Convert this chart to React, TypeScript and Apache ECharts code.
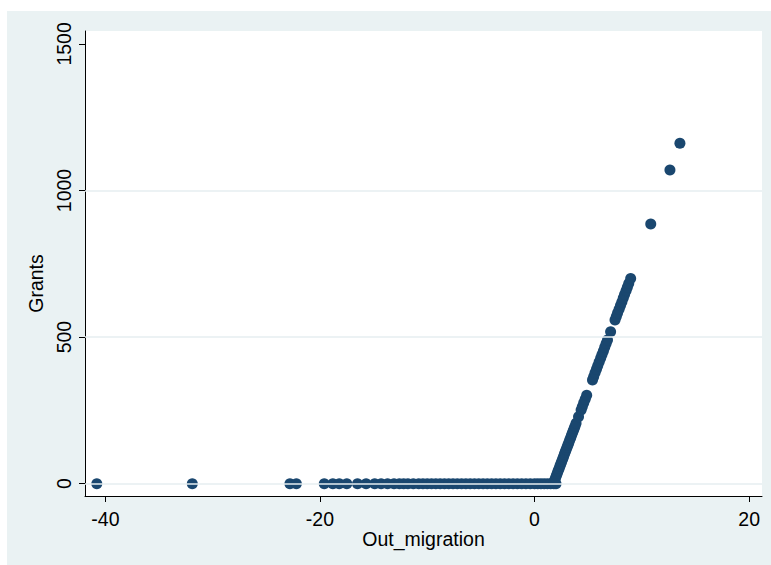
import { useEffect, useRef } from "react";
import * as echarts from "echarts";

// Points lying on Grants = 0
const zeroX = [
  -40.8, -31.9, -22.8, -22.2, -19.6, -18.8, -18.2, -17.5, -16.5, -15.7, -14.9,
  -14.3, -13.7, -13.1, -12.6, -12.2, -11.8, -11.3, -10.8, -10.4, -10.0, -9.6,
  -9.2, -8.8, -8.4, -8.0, -7.6, -7.2, -6.8, -6.4, -6.0, -5.6, -5.2, -4.8, -4.4,
  -4.0, -3.6, -3.2, -2.8, -2.4, -2.0, -1.6, -1.2, -0.8, -0.4, 0.0, 0.3, 0.6,
  0.9, 1.2, 1.5, 1.8, 2.0,
];

// Rising part
const risingX = [
  1.8, 1.87, 1.96, 2.04, 2.12, 2.2, 2.29, 2.37, 2.45, 2.53, 2.62, 2.7, 2.78,
  2.86, 2.94, 3.03, 3.11, 3.19, 3.27, 3.36, 3.44, 3.52, 3.6, 3.69, 3.77, 3.87,
  4.1, 4.34, 4.45, 4.58, 4.72, 4.86, 5.4, 5.51, 5.64, 5.77, 5.89, 6.02, 6.16,
  6.28, 6.41, 6.54, 6.67, 6.8, 7.09, 7.5, 7.62, 7.74, 7.88, 8.01, 8.14, 8.27,
  8.39, 8.53, 8.65, 8.78, 8.96,
];
const risingY = [
  5, 12, 20, 28, 36, 44, 52, 60, 68, 76, 84, 92, 100, 108, 116, 124, 132, 140,
  148, 156, 164, 172, 180, 188, 196, 206, 228, 251, 262, 275, 288, 302, 354,
  365, 378, 390, 402, 415, 428, 440, 452, 465, 478, 490, 518, 558, 570, 582,
  595, 608, 620, 633, 645, 658, 670, 683, 700,
];

// Isolated high points
const outlierX = [10.83, 12.62, 13.55];
const outlierY = [886, 1070, 1161];

const xTicks = [-40, -20, 0, 20];
const yTicks = [0, 500, 1000, 1500];
const gridLinesY = [0, 500, 1000];

const FONT = "Liberation Sans";
const FS = 19.5;

export default function App() {
  const ref = useRef<HTMLDivElement>(null);

  useEffect(() => {
    document.body.style.margin = "0";
    if (!ref.current) return;
    const chart = echarts.init(ref.current, undefined, { renderer: "svg" });

    const points: [number, number][] = [];
    zeroX.forEach((x) => points.push([x, 0]));
    risingX.forEach((x, i) => points.push([x, risingY[i]]));
    outlierX.forEach((x, i) => points.push([x, outlierY[i]]));

    chart.setOption({
      animation: false,
      backgroundColor: "#ffffff",
      textStyle: { fontFamily: FONT },
      graphic: [
        {
          type: "rect",
          left: 7,
          top: 11,
          shape: { width: 764, height: 554 },
          style: { fill: "#EAF2F3" },
          z: -10,
          silent: true,
        },
      ],
      grid: {
        left: 85,
        right: 9,
        top: 31,
        bottom: 69,
        show: true,
        backgroundColor: "#ffffff",
        borderWidth: 0,
      },
      xAxis: {
        type: "value",
        min: -41.9,
        max: 21.2,
        name: "Out_migration",
        nameLocation: "middle",
        nameGap: 33,
        nameMoveOverlap: false,
        nameTextStyle: { fontSize: FS, color: "#000", fontFamily: FONT },
        axisLine: { show: true, onZero: false, lineStyle: { color: "#000", width: 1 } },
        axisTick: { show: true, customValues: xTicks, length: 6, lineStyle: { color: "#000" } },
        axisLabel: {
          customValues: xTicks,
          fontSize: FS,
          color: "#000",
          fontFamily: FONT,
          margin: 13,
          formatter: (v: number) => String(v),
        },
        splitLine: { show: false },
      },
      yAxis: {
        type: "value",
        min: -42,
        max: 1544,
        name: "Grants",
        nameLocation: "middle",
        nameGap: 38,
        nameRotate: 90,
        nameTextStyle: {
          fontSize: FS,
          color: "#000",
          fontFamily: FONT,
          padding: [0, 40, 0, 0],
        },
        axisLine: { show: true, onZero: false, lineStyle: { color: "#000", width: 1 } },
        axisTick: { show: true, customValues: yTicks, length: 6, lineStyle: { color: "#000" } },
        axisLabel: {
          customValues: yTicks,
          rotate: 90,
          fontSize: FS,
          color: "#000",
          fontFamily: FONT,
          margin: 11,
          formatter: (v: number) => String(v),
        },
        splitLine: { show: false },
      },
      series: [
        {
          type: "scatter",
          data: [],
          z: 1,
          silent: true,
          markLine: {
            silent: true,
            symbol: "none",
            label: { show: false },
            lineStyle: { color: "#E6EEF0", width: 1.5, type: "solid" },
            data: gridLinesY.map((v) => ({ yAxis: v })),
          },
        },
        {
          type: "scatter",
          z: 3,
          symbol: "circle",
          symbolSize: 11,
          itemStyle: { color: "#1A476F", opacity: 1 },
          data: points,
        },
      ],
    });

    return () => chart.dispose();
  }, []);

  return <div ref={ref} style={{ width: 771, height: 565 }} />;
}
